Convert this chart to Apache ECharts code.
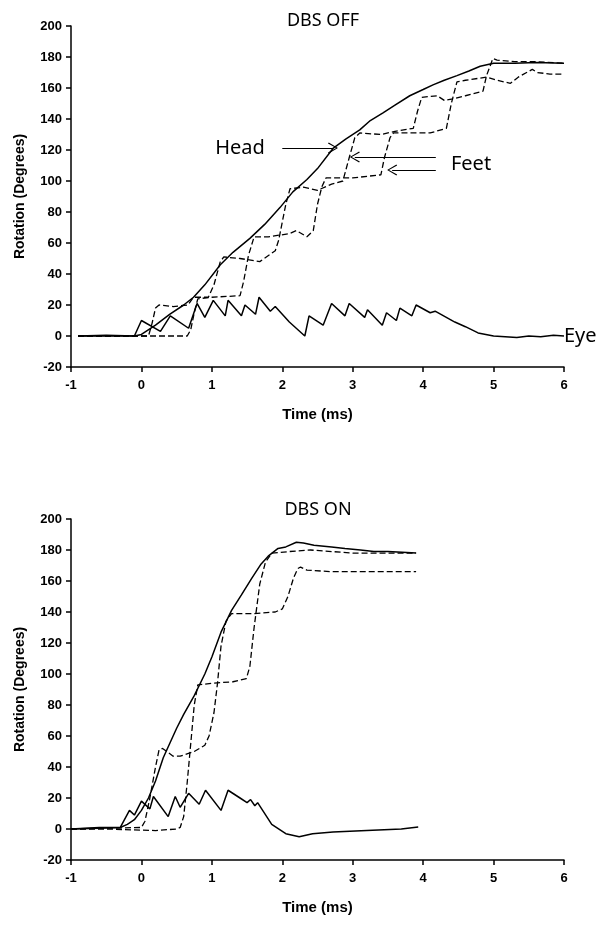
<!DOCTYPE html>
<html>
<head>
<meta charset="utf-8">
<script src="https://cdn.jsdelivr.net/npm/echarts@6/dist/echarts.min.js"></script>
<style>
html,body{margin:0;padding:0;background:#fff;}
#chart{width:607px;height:928px;}
</style>
</head>
<body>
<div id="chart"></div>
<script>
// ---------- DATA ----------
const xTicks = [-1, 0, 1, 2, 3, 4, 5, 6];
const yTicks = [-20, 0, 20, 40, 60, 80, 100, 120, 140, 160, 180, 200];

// DBS OFF
const offHead = [[-0.9,0],[-0.5,0],[-0.1,0],[0,1],[0.2,7],[0.4,14],[0.6,20],[0.74,25],[0.9,33],[1.12,46],[1.3,54],[1.54,63],[1.75,72],[1.97,83],[2.15,93],[2.35,101],[2.5,108],[2.72,121],[2.9,127],[3.1,133],[3.25,139],[3.43,144],[3.6,149],[3.81,155],[4.0,159],[4.14,162],[4.3,165],[4.48,168],[4.65,171],[4.81,174],[5.0,176],[5.3,176],[5.6,176.5],[6.0,176]];
const offFootA = [[-0.9,0],[0.1,0],[0.15,8],[0.2,18],[0.25,20],[0.45,19],[0.66,20],[0.74,25],[0.95,25],[1.03,33],[1.12,48],[1.17,51],[1.4,50],[1.68,48],[1.9,55],[1.95,62],[2.05,85],[2.11,95],[2.3,96],[2.5,94],[2.7,98],[2.86,100],[2.95,115],[3.03,128],[3.1,131],[3.4,130],[3.6,132],[3.86,134],[3.92,145],[3.98,154],[4.2,155],[4.3,152],[4.42,153],[4.6,155],[4.85,158],[4.9,168],[4.99,179],[5.05,178],[5.3,177],[5.6,177],[6.0,176]];
const offFootB = [[-0.9,0],[0.65,0],[0.7,4],[0.75,15],[0.8,24],[1.0,25],[1.4,26],[1.45,35],[1.52,52],[1.6,64],[1.8,64],[2.1,66],[2.2,68],[2.35,64],[2.44,68],[2.5,85],[2.56,96],[2.62,102],[3.0,102],[3.4,104],[3.45,115],[3.53,128],[3.58,131],[3.9,131],[4.1,131],[4.33,134],[4.4,150],[4.48,164],[4.6,165],[4.9,167],[5.05,165],[5.24,163],[5.35,167],[5.55,172],[5.62,170],[5.8,169],[6.0,169]];
const offEye = [[-0.9,0],[-0.5,0.5],[-0.1,0],[0,10],[0.27,3],[0.41,13],[0.67,5],[0.79,21],[0.9,12],[1.02,23],[1.19,13],[1.23,23],[1.42,13],[1.47,20],[1.62,14],[1.67,25],[1.83,16],[1.9,19],[2.1,9],[2.32,0],[2.38,13],[2.58,7],[2.7,21],[2.89,13],[2.95,21],[3.17,12],[3.21,17],[3.42,7],[3.48,15],[3.62,10],[3.67,18],[3.84,13],[3.9,20],[4.1,15],[4.17,16],[4.45,9],[4.6,6],[4.78,2],[5.0,0],[5.33,-1],[5.5,0],[5.67,-0.5],[5.85,0.5],[6.0,0]];

// DBS ON
const onHead = [[-1,0],[-0.6,0.5],[-0.3,1],[-0.2,3],[-0.1,6],[0,12],[0.1,20],[0.2,31],[0.31,46],[0.4,55],[0.5,65],[0.6,74],[0.75,86],[0.9,100],[1.0,111],[1.13,127],[1.28,141],[1.42,151],[1.57,162],[1.7,171],[1.8,176],[1.94,181],[2.05,182],[2.2,185],[2.3,184.5],[2.45,183],[2.7,182],[2.89,181],[3.11,180],[3.3,179],[3.5,179],[3.7,178.5],[3.9,178]];
const onFootA = [[-1,0],[-0.5,0.5],[0.0,1],[0.05,5],[0.12,20],[0.2,40],[0.25,51],[0.3,52],[0.45,47],[0.55,47],[0.75,50],[0.9,54],[0.96,60],[1.03,75],[1.08,94],[1.13,118],[1.2,134],[1.28,139],[1.6,139],[1.9,140],[2.0,142],[2.08,150],[2.16,162],[2.22,168],[2.26,169],[2.35,167],[2.7,166],[3.0,166],[3.5,166],[3.9,166]];
const onFootB = [[-1,0],[-0.5,0],[0.2,-1],[0.5,0],[0.55,1],[0.6,8],[0.65,30],[0.7,55],[0.75,80],[0.8,93],[1.0,94],[1.3,95],[1.49,97],[1.54,105],[1.6,130],[1.68,158],[1.76,172],[1.85,178],[2.1,179],[2.4,180],[2.7,179],[3.0,178],[3.5,178],[3.9,178]];
const onEye = [[-1,0],[-0.6,1],[-0.3,1],[-0.17,12],[-0.1,9],[0.0,18],[0.12,13],[0.17,21],[0.38,8],[0.48,21],[0.55,14],[0.67,23],[0.82,16],[0.91,25],[1.13,12],[1.23,25],[1.4,20],[1.5,17],[1.55,19],[1.61,15],[1.65,17],[1.85,3],[2.05,-3],[2.24,-5],[2.43,-3],[2.72,-2],[3.2,-1],[3.69,0],[3.93,1.3]];

const titles = ['DBS OFF', 'DBS ON'];
const labels = {head: 'Head', feet: 'Feet', eye: 'Eye'};

// ---------- CHART ----------
const chart = echarts.init(document.getElementById('chart'), null, {renderer: 'canvas'});
const tickFont = {color: '#000', fontFamily: 'Liberation Sans, Arial', fontWeight: 'bold', fontSize: 13};
const annFont = {color: '#000', fontFamily: 'Noto Sans', fontSize: 20};
const chevron = 'path://M5,0 L10,10 L9,10.8 L5,2 L1,10.8 L0,10 Z';

function xAxis(i) {
  return {
    type: 'value', gridIndex: i, min: xTicks[0], max: xTicks[xTicks.length - 1], interval: 1,
    name: 'Time (ms)', nameLocation: 'middle', nameGap: 40,
    nameTextStyle: {color: '#000', fontFamily: 'Liberation Sans, Arial', fontWeight: 'bold', fontSize: 15},
    axisLine: {onZero: false, lineStyle: {color: '#000', width: 1.5}},
    axisTick: {show: true, inside: false, length: 5, lineStyle: {color: '#000', width: 1.5}},
    axisLabel: {margin: 12, ...tickFont},
    splitLine: {show: false}
  };
}
function yAxis(i) {
  return {
    type: 'value', gridIndex: i, min: yTicks[0], max: yTicks[yTicks.length - 1], interval: 20,
    name: 'Rotation (Degrees)', nameLocation: 'middle', nameGap: 44,
    nameTextStyle: {color: '#000', fontFamily: 'Liberation Sans, Arial', fontWeight: 'bold', fontSize: 14},
    axisLine: {show: true, onZero: false, lineStyle: {color: '#000', width: 1.5}},
    axisTick: {show: true, inside: false, length: 5, lineStyle: {color: '#000', width: 1.5}},
    axisLabel: {margin: 9, ...tickFont},
    splitLine: {show: false}
  };
}
function line(i, data, dashed) {
  return {
    type: 'line', xAxisIndex: i, yAxisIndex: i, data: data, symbol: 'none', smooth: false,
    lineStyle: {color: '#000', width: dashed ? 1.3 : 1.5, type: dashed ? [6, 3] : 'solid'},
    silent: true, animation: false, z: 3
  };
}

const headOff = line(0, offHead, false);
headOff.markLine = {
  silent: true, animation: false, symbol: ['none', chevron], symbolSize: [11, 10],
  label: {show: false}, lineStyle: {color: '#000', width: 1, type: 'solid'},
  data: [
    [{coord: [2.0, 121.3]}, {coord: [2.72, 121.3]}],
    [{coord: [4.18, 115.5]}, {coord: [3.03, 115.5]}],
    [{coord: [4.18, 107.1]}, {coord: [3.56, 107.1]}]
  ]
};
headOff.markPoint = {
  silent: true, animation: false, symbol: 'circle', symbolSize: 0,
  label: {show: true, position: 'inside', ...annFont},
  data: [
    {coord: [1.40, 121.3], label: {formatter: labels.head}},
    {coord: [4.68, 111], label: {formatter: labels.feet}}
  ]
};
const eyeOff = line(0, offEye, false);
eyeOff.markPoint = {
  silent: true, animation: false, symbol: 'circle', symbolSize: 0,
  label: {show: true, position: 'right', distance: 0, ...annFont},
  data: [{coord: [6, 0], label: {formatter: labels.eye}}]
};

chart.setOption({
  animation: false,
  backgroundColor: '#fff',
  title: [
    {text: titles[0], left: 318, top: 7, textAlign: 'center', textStyle: {color: '#000', fontFamily: 'Noto Sans', fontWeight: 'normal', fontSize: 18}},
    {text: titles[1], left: 313, top: 496, textAlign: 'center', textStyle: {color: '#000', fontFamily: 'Noto Sans', fontWeight: 'normal', fontSize: 18}}
  ],
  grid: [
    {left: 71, top: 26, width: 493, height: 341},
    {left: 71, top: 519, width: 493, height: 341}
  ],
  xAxis: [xAxis(0), xAxis(1)],
  yAxis: [yAxis(0), yAxis(1)],
  series: [
    headOff, line(0, offFootA, true), line(0, offFootB, true), eyeOff,
    line(1, onHead, false), line(1, onFootA, true), line(1, onFootB, true), line(1, onEye, false)
  ]
});
</script>
</body>
</html>
